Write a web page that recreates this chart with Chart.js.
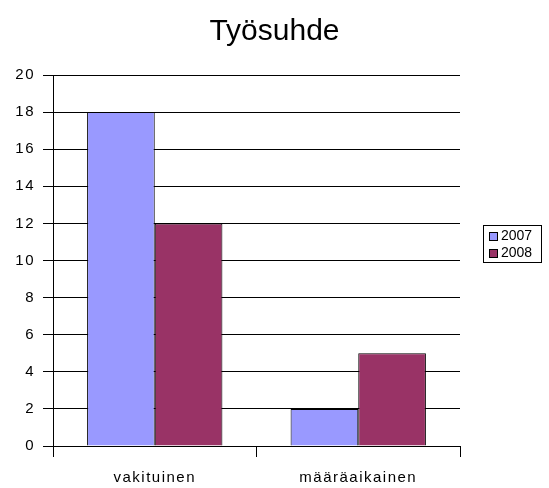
<!DOCTYPE html>
<html>
<head>
<meta charset="utf-8">
<script src="https://cdn.jsdelivr.net/npm/chart.js@4/dist/chart.umd.min.js"></script>
<style>
    html, body { margin: 0; padding: 0; background: #fff; }
    #wrap { width: 549px; height: 488px; }
</style>
</head>
<body>
<div id="wrap"><canvas id="tyosuhdeChart"></canvas></div>
<script>
// Tiedot
const categories = ['vakituinen', 'määräaikainen'];
const seriesLabels = ['2007', '2008'];
const values2007 = [18, 2];
const values2008 = [12, 5];
const seriesColors = ['#9999FF', '#993366'];
const yTicks = [0, 2, 4, 6, 8, 10, 12, 14, 16, 18, 20];

const FONT = "'Liberation Sans', Arial, sans-serif";

// Harvennettu kirjainväli akselien teksteille
function spaceLabels(scale, spacing) {
    const orig = scale.drawLabels;
    if (orig._spaced) return;
    scale.drawLabels = function (area) {
        const c = this.ctx;
        c.save();
        c.letterSpacing = spacing;
        orig.call(this, area);
        c.restore();
    };
    scale.drawLabels._spaced = true;
}

const spacedTicks = {
    id: 'spacedTicks',
    afterLayout(chart) {
        spaceLabels(chart.scales.x, '1.5px');
        spaceLabels(chart.scales.y, '1.5px');
    }
};

// Legenda laatikossa oikealla
const boxedLegend = {
    id: 'boxedLegend',
    afterDraw(chart) {
        const ctx = chart.ctx;
        const area = chart.chartArea;
        const x = area.right + 23;
        const w = 58;
        const rowH = 17;
        const h = chart.data.datasets.length * rowH + 3;
        const y = Math.round(chart.height / 2 - h / 2) - 0.5;
        ctx.save();
        ctx.fillStyle = '#fff';
        ctx.fillRect(x + 0.5, y, w, h);
        ctx.strokeStyle = '#000';
        ctx.lineWidth = 1;
        ctx.strokeRect(x + 0.5, y, w, h);
        ctx.font = '14px ' + FONT;
        ctx.textBaseline = 'middle';
        chart.data.datasets.forEach(function (ds, i) {
            const cy = y + 10 + i * rowH;
            ctx.fillStyle = ds.backgroundColor;
            ctx.fillRect(x + 6.5, Math.round(cy - 4) + 0.5, 8, 8);
            ctx.strokeStyle = '#000';
            ctx.strokeRect(x + 6.5, Math.round(cy - 4) + 0.5, 8, 8);
            ctx.fillStyle = '#000';
            ctx.fillText(ds.label, x + 18, cy + 1);
        });
        ctx.restore();
    }
};

const ctx = document.getElementById('tyosuhdeChart').getContext('2d');
new Chart(ctx, {
    type: 'bar',
    data: {
        labels: categories,
        datasets: [
            {
                label: seriesLabels[0],
                data: values2007,
                backgroundColor: seriesColors[0],
                borderColor: '#000',
                borderWidth: 1
            },
            {
                label: seriesLabels[1],
                data: values2008,
                backgroundColor: seriesColors[1],
                borderColor: '#000',
                borderWidth: 1
            }
        ]
    },
    options: {
        responsive: true,
        maintainAspectRatio: false,
        animation: false,
        layout: {
            padding: 0
        },
        datasets: {
            bar: {
                categoryPercentage: 0.665,
                barPercentage: 1
            }
        },
        plugins: {
            legend: { display: false },
            tooltip: { enabled: false },
            title: {
                display: true,
                text: 'Työsuhde',
                color: '#000',
                font: { family: FONT, size: 30, weight: 'normal' },
                padding: { top: 14, bottom: 25 }
            }
        },
        scales: {
            y: {
                min: 0,
                max: 20,
                afterBuildTicks: function (scale) {
                    scale.ticks = yTicks.map(v => ({ value: v }));
                },
                afterFit: function (scale) {
                    scale.width = 53;
                },
                border: { color: '#000', width: 1 },
                grid: {
                    color: '#000',
                    lineWidth: 1,
                    tickLength: 10,
                    tickColor: '#000'
                },
                ticks: {
                    color: '#000',
                    padding: 8,
                    font: { family: FONT, size: 15 }
                }
            },
            // tyhjä tila legendalle oikealla
            yRight: {
                position: 'right',
                display: true,
                afterFit: function (scale) {
                    scale.width = 89;
                },
                border: { display: false },
                grid: { display: false },
                ticks: { display: false }
            },
            x: {
                afterFit: function (scale) {
                    scale.height = 42;
                },
                border: { color: '#000', width: 1 },
                grid: {
                    offset: true,
                    drawOnChartArea: false,
                    tickLength: 11,
                    tickColor: '#000'
                },
                ticks: {
                    color: '#000',
                    padding: 12,
                    font: { family: FONT, size: 15 }
                }
            }
        }
    },
    plugins: [spacedTicks, boxedLegend]
});
</script>
</body>
</html>
